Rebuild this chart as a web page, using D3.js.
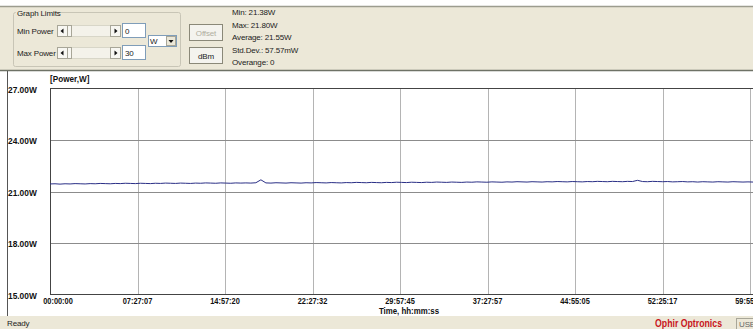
<!DOCTYPE html>
<html lang="en">
<head>
<meta charset="UTF-8">
<title>Power log</title>
<style>
  body { margin: 0; background: #fff; }
  svg { display: block; font-family: "Liberation Sans", "DejaVu Sans", sans-serif; }
  .ui { font-size: 8px; fill: #222; letter-spacing: -0.15px; }
  .tick { font-size: 9.5px; font-weight: bold; fill: #111; }
</style>
</head>
<body>
<div id="chart"></div>
<script src="https://cdn.jsdelivr.net/npm/d3@7/dist/d3.min.js"></script>
<script>
// tick labels along the time axis (equally spaced grid)
const timeLabels = ['00:00:00', '07:27:07', '14:57:20', '22:27:32', '29:57:45', '37:27:57', '44:55:05', '52:25:17', '59:55:29'];
// power axis ticks, W
const powerTicks = [15, 18, 21, 24, 27];
const power = [
  21.44, 21.45, 21.43, 21.45, 21.44, 21.46, 21.45, 21.44, 21.46, 21.45,
  21.47, 21.46, 21.45, 21.47, 21.46, 21.48, 21.47, 21.46, 21.48, 21.47,
  21.46, 21.48, 21.47, 21.49, 21.48, 21.47, 21.49, 21.48, 21.47, 21.49,
  21.48, 21.50, 21.49, 21.48, 21.50, 21.49, 21.48, 21.50, 21.49, 21.50,
  21.49, 21.51, 21.68, 21.50, 21.49, 21.51, 21.50, 21.49, 21.51, 21.50,
  21.49, 21.51, 21.50, 21.52, 21.51, 21.50, 21.52, 21.51, 21.50, 21.52,
  21.51, 21.53, 21.52, 21.51, 21.53, 21.52, 21.51, 21.53, 21.52, 21.54,
  21.53, 21.52, 21.54, 21.53, 21.52, 21.54, 21.53, 21.55, 21.54, 21.53,
  21.55, 21.54, 21.53, 21.55, 21.54, 21.56, 21.55, 21.54, 21.56, 21.55,
  21.54, 21.56, 21.55, 21.57, 21.56, 21.55, 21.57, 21.56, 21.55, 21.57,
  21.56, 21.58, 21.57, 21.56, 21.58, 21.57, 21.56, 21.58, 21.57, 21.59,
  21.58, 21.57, 21.59, 21.58, 21.57, 21.59, 21.58, 21.65, 21.58, 21.57,
  21.59, 21.58, 21.57, 21.58, 21.56, 21.57, 21.58, 21.56, 21.57, 21.55,
  21.57, 21.56, 21.55, 21.57, 21.56, 21.55, 21.57, 21.56, 21.55, 21.56, 21.55
];
const stats = ['Min: 21.38W', 'Max: 21.80W', 'Average: 21.55W', 'Std.Dev.: 57.57mW', 'Overange: 0'];

const W = 753, H = 329;
const svg = d3.select('#chart').append('svg').attr('width', W).attr('height', H);

// window chrome
svg.append('rect').attr('x', 0).attr('y', 6).attr('width', W).attr('height', 64).attr('fill', '#ece8d8');
svg.append('line').attr('x1', 0).attr('x2', W).attr('y1', 6.5).attr('y2', 6.5).attr('stroke', '#9c9c8e').attr('stroke-width', 1.5);
svg.append('line').attr('x1', 0).attr('x2', W).attr('y1', 70.5).attr('y2', 70.5).attr('stroke', '#6e7266').attr('stroke-width', 1.5);
svg.append('rect').attr('x', 0).attr('y', 316).attr('width', W).attr('height', 13).attr('fill', '#ece8d8');
svg.append('line').attr('x1', 7.5).attr('x2', 7.5).attr('y1', 71).attr('y2', 316).attr('stroke', '#555').attr('stroke-width', 1);

// group box
const ctl = svg.append('g');
ctl.append('rect').attr('x', 13.5).attr('y', 12.5).attr('width', 167).attr('height', 54)
  .attr('rx', 2).attr('fill', 'none').attr('stroke', '#c8c5b6');
ctl.append('rect').attr('x', 16).attr('y', 8).attr('width', 37).attr('height', 9).attr('fill', '#ece8d8');
ctl.append('text').attr('class', 'ui').attr('x', 17).attr('y', 16).text('Graph Limits');

function slider(y, val, label) {
  ctl.append('text').attr('class', 'ui').attr('x', 17).attr('y', y + 3).text(label);
  ctl.append('rect').attr('x', 57.5).attr('y', y - 5.5).attr('width', 63).attr('height', 11).attr('fill', '#f4f2ea').attr('stroke', '#d8d6c8');
  [57.5, 110.5].forEach(bx => {
    ctl.append('rect').attr('x', bx).attr('y', y - 5.5).attr('width', 10).attr('height', 11).attr('fill', '#f8f7f2').attr('stroke', '#a8a698');
  });
  ctl.append('rect').attr('x', 67.5).attr('y', y - 5.5).attr('width', 4).attr('height', 11).attr('fill', '#f8f7f2').attr('stroke', '#a8a698');
  ctl.append('path').attr('d', `M60.5,${y} l3,-2.5 v5 z`).attr('fill', '#111');
  ctl.append('path').attr('d', `M117.5,${y} l-3,-2.5 v5 z`).attr('fill', '#111');
  ctl.append('rect').attr('x', 122.5).attr('y', y - 7.5).attr('width', 23).attr('height', 14).attr('fill', '#fff').attr('stroke', '#7f9db9');
  ctl.append('text').attr('class', 'ui').attr('x', 125).attr('y', y + 3).text(val);
}
slider(31, '0', 'Min Power');
slider(53, '30', 'Max Power');

ctl.append('rect').attr('x', 148.5).attr('y', 35.5).attr('width', 28).attr('height', 11).attr('fill', '#fff').attr('stroke', '#7f9db9');
ctl.append('text').attr('class', 'ui').attr('x', 150).attr('y', 44).text('W');
ctl.append('rect').attr('x', 166.5).attr('y', 36.5).attr('width', 9).attr('height', 9).attr('fill', '#ece8d8').attr('stroke', '#a8a698');
ctl.append('path').attr('d', 'M168.5,40 h5 l-2.5,3 z').attr('fill', '#111');

[['Offset', 24, '#b0ae9f'], ['dBm', 47, '#222']].forEach(([t, y, c]) => {
  ctl.append('rect').attr('x', 189.5).attr('y', y + 0.5).attr('width', 33).attr('height', 16).attr('fill', '#f4f3ee').attr('stroke', '#8a8878');
  ctl.append('text').attr('class', 'ui').attr('x', 206).attr('y', y + 11.5).attr('text-anchor', 'middle').style('fill', c).text(t);
});

ctl.selectAll('.stat').data(stats).join('text')
  .attr('class', 'ui').attr('x', 232).attr('y', (d, i) => 15 + i * 12.5).text(d => d);

// plot
const x = d3.scaleLinear().domain([0, timeLabels.length - 1]).range([50, 750]);
const y = d3.scaleLinear().domain([15, 27]).range([294.5, 88.5]);

const grid = svg.append('g');
grid.selectAll('.vg').data(d3.range(1, timeLabels.length)).join('line')
  .attr('x1', d => Math.round(x(d)) + 0.5).attr('x2', d => Math.round(x(d)) + 0.5)
  .attr('y1', 88.5).attr('y2', 294.5).attr('stroke', '#b4b4b4');
grid.selectAll('.hg').data(powerTicks.slice(1, -1)).join('line')
  .attr('x1', 50).attr('x2', W).attr('y1', d => Math.round(y(d)) + 0.5).attr('y2', d => Math.round(y(d)) + 0.5)
  .attr('stroke', '#8c8c8c');
svg.append('line').attr('x1', 50).attr('x2', W).attr('y1', 88.5).attr('y2', 88.5).attr('stroke', '#444');
svg.append('line').attr('x1', 50).attr('x2', W).attr('y1', 294.5).attr('y2', 294.5).attr('stroke', '#444');
svg.append('line').attr('x1', 50.5).attr('x2', 50.5).attr('y1', 88).attr('y2', 295).attr('stroke', '#444');

// trace
const tx = d3.scaleLinear().domain([0, power.length - 1]).range([50, 753]);
svg.append('path').datum(power)
  .attr('fill', 'none').attr('stroke', '#2a2f86').attr('stroke-width', 1)
  .attr('d', d3.line().x((d, i) => tx(i)).y(d => y(d)));

// bold labels drawn narrow, like the logger's bitmap font
const narrow = (sx) => (d, i, n) => {
  const t = d3.select(n[i]);
  const px = +t.attr('data-x'), py = +t.attr('data-y');
  return `translate(${px},${py}) scale(${sx},1)`;
};

svg.selectAll('.yl').data(powerTicks).join('text')
  .attr('class', 'tick').attr('data-x', 8).attr('data-y', d => y(d) + 4)
  .attr('transform', narrow(0.88)).text(d => d.toFixed(2) + 'W');
svg.selectAll('.xl').data(timeLabels).join('text')
  .attr('class', 'tick').attr('text-anchor', 'middle')
  .attr('data-x', (d, i) => x(i) + (i === 0 ? 8 : 0)).attr('data-y', 303.5)
  .attr('transform', narrow(0.78)).text(d => d);
svg.append('text').attr('class', 'tick').attr('transform', 'translate(50,82) scale(0.86,1)').text('[Power,W]');
svg.append('text').attr('class', 'tick').attr('text-anchor', 'middle')
  .attr('transform', 'translate(409,313.5) scale(0.83,1)').text('Time, hh:mm:ss');

// status bar
svg.append('text').attr('class', 'ui').attr('x', 7).attr('y', 326).text('Ready');
svg.append('text').attr('x', 655).attr('y', 327).attr('font-size', 10.5).attr('font-weight', 'bold')
  .attr('textLength', 67).attr('lengthAdjust', 'spacingAndGlyphs').attr('fill', '#c8141c').text('Ophir Optronics');
svg.append('rect').attr('x', 736.5).attr('y', 318.5).attr('width', 20).attr('height', 11).attr('fill', 'none').attr('stroke', '#a8a698');
svg.append('text').attr('class', 'ui').attr('x', 739).attr('y', 327).attr('font-size', 7).style('fill', '#666').text('USB');
</script>
</body>
</html>
